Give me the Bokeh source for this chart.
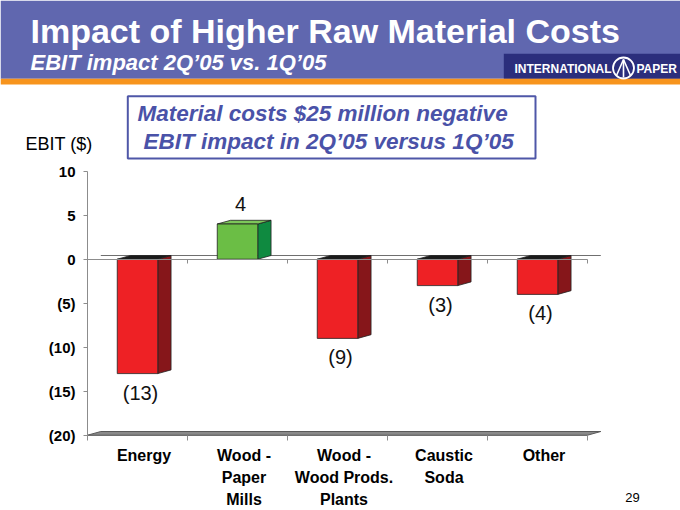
from bokeh.plotting import figure
from bokeh.models import Range1d, LinearAxis, FixedTicker
from bokeh.core.properties import value
from bokeh.embed import file_html
from bokeh.resources import INLINE

# ---- data ----
categories = ["Energy", "Wood -\nPaper\nMills", "Wood -\nWood Prods.\nPlants", "Caustic\nSoda", "Other"]
ebit = [-13, 4, -9, -3, -4]
value_labels = ["(13)", "4", "(9)", "(3)", "(4)"]
y_ticks = [10, 5, 0, -5, -10, -15, -20]
y_tick_labels = ["10", "5", "0", "(5)", "(10)", "(15)", "(20)"]

# ---- geometry (pixel <-> data) ----
W, H = 680, 510
PX_X = 100.0   # px per category
PX_Y = 8.8     # px per EBIT unit
X0_PX = 87.0   # pixel x of category origin
Y0_PX = 258.7  # pixel y of EBIT 0


def X(px):
    return (px - X0_PX) / PX_X


def Y(py):
    return (Y0_PX - py) / PX_Y


FONT = value("Liberation Sans")

p = figure(width=W, height=H, x_range=Range1d(X(0), X(W)), y_range=Range1d(Y(H), Y(0)),
           output_backend="svg", toolbar_location=None, min_border=0,
           x_axis_type=None, y_axis_type=None)
p.outline_line_color = None
p.background_fill_color = "white"
p.border_fill_color = "white"

# ---- header ----
p.quad(left=[X(0)], right=[X(W)], top=[Y(0)], bottom=[Y(78.3)], fill_color="#6067AF", line_color=None)
p.quad(left=[X(503.3)], right=[X(W)], top=[Y(53.3)], bottom=[Y(78.3)], fill_color="#2B2E7C", line_color=None)
p.quad(left=[X(0)], right=[X(W)], top=[Y(78.3)], bottom=[Y(84)], fill_color="#F7941D", line_color=None)

p.text(x=[X(30)], y=[Y(30)], text=["Impact of Higher Raw Material Costs"], text_font=FONT,
       text_font_style="bold", text_font_size="34px", text_color="white",
       text_align="left", text_baseline="middle")
p.text(x=[X(30)], y=[Y(62)], text=["EBIT impact 2Q\u201905 vs. 1Q\u201905"], text_font=FONT,
       text_font_style="bold italic", text_font_size="22px", text_color="white",
       text_align="left", text_baseline="middle")

# logo
p.text(x=[X(514)], y=[Y(68.5)], text=["INTERNATIONAL"], text_font=FONT, text_font_style="bold",
       text_font_size="12px", text_color="white", text_align="left", text_baseline="middle")
p.text(x=[X(636)], y=[Y(68.5)], text=["PAPER"], text_font=FONT, text_font_style="bold",
       text_font_size="12px", text_color="white", text_align="left", text_baseline="middle")
p.scatter(x=[X(623)], y=[Y(67.5)], size=21, marker="circle", fill_color=None,
          line_color="white", line_width=1.8)
p.multi_line(xs=[[X(616), X(623), X(630)], [X(623), X(623)]],
             ys=[[Y(75), Y(59), Y(75)], [Y(59), Y(77)]], line_color="white", line_width=1.6)

# ---- callout box ----
p.quad(left=[X(127.3)], right=[X(535)], top=[Y(95.7)], bottom=[Y(158)], fill_color=None,
       line_color="#4F57A8", line_width=2)
p.text(x=[X(137), X(143)], y=[Y(113), Y(141)],
       text=["Material costs $25 million negative", "EBIT impact in 2Q\u201905 versus 1Q\u201905"],
       text_font=FONT, text_font_style="bold italic", text_font_size="22.5px", text_color="#4A52A8",
       text_align="left", text_baseline="middle")

p.text(x=[X(25)], y=[Y(143)], text=["EBIT ($)"], text_font=FONT, text_font_size="18px",
       text_color="black", text_align="left", text_baseline="middle")
p.text(x=[X(632)], y=[Y(497)], text=["29"], text_font=FONT, text_font_size="13px",
       text_color="black", text_align="center", text_baseline="middle")

# ---- chart ----
n = len(categories)
DX = 13.3 / PX_X
DY = 3.7 / PX_Y
HALF = 20.25 / PX_X
y_min, y_max = y_ticks[-1], y_ticks[0]

# floor
p.patch(x=[0, DX, n + DX, n], y=[y_min, y_min + DY, y_min + DY, y_min],
        fill_color="#8A8A8A", line_color="#5A5A5A", line_width=1)
# back zero line
p.line(x=[DX, n + DX], y=[DY, DY], line_color="#6F6F6F", line_width=1.2)

xc = [i + 0.5 for i in range(n)]
lefts = [c - HALF for c in xc]
rights = [c + HALF for c in xc]
tops = [max(v, 0) for v in ebit]
bottoms = [min(v, 0) for v in ebit]
front = ["#EE2125" if v < 0 else "#6BBE45" for v in ebit]
side = ["#86161A" if v < 0 else "#0F8A40" for v in ebit]
topc = ["#1A1A1A" if v < 0 else "#7DC75A" for v in ebit]

p.patches(xs=[[r, r + DX, r + DX, r] for r in rights],
          ys=[[t, t + DY, b + DY, b] for t, b in zip(tops, bottoms)],
          fill_color=side, line_color="#222222", line_width=0.8)
p.patches(xs=[[l, l + DX, r + DX, r] for l, r in zip(lefts, rights)],
          ys=[[t, t + DY, t + DY, t] for t in tops],
          fill_color=topc, line_color="#222222", line_width=0.8)
p.quad(left=lefts, right=rights, top=tops, bottom=bottoms, fill_color=front,
       line_color="#222222", line_width=0.8)

# value labels
p.text(x=[c + 0.03 for c in xc], y=ebit, text=value_labels,
       y_offset=[19 if v < 0 else -20 for v in ebit],
       text_font=FONT, text_font_size="20px", text_color="#111111",
       text_align="center", text_baseline="middle")

# left axis
yax = LinearAxis(fixed_location=0, bounds=(y_min, y_max), ticker=FixedTicker(ticks=y_ticks),
                 major_label_overrides=dict(zip(y_ticks, y_tick_labels)))
yax.axis_line_color = "#8C8C8C"
yax.major_tick_line_color = "#8C8C8C"
yax.major_tick_out = 4
yax.major_tick_in = 0
yax.minor_tick_out = 0
yax.minor_tick_in = 0
yax.major_label_standoff = 8
yax.major_label_text_font = "Liberation Sans"
yax.major_label_text_font_style = "bold"
yax.major_label_text_font_size = "15px"
yax.major_label_text_color = "black"
p.add_layout(yax, "left")

# zero axis line with ticks
zax = LinearAxis(fixed_location=0, bounds=(0, n), ticker=FixedTicker(ticks=list(range(1, n + 1))))
zax.axis_line_color = "#8C8C8C"
zax.major_tick_line_color = "#8C8C8C"
zax.major_tick_out = 4
zax.major_tick_in = 0
zax.minor_tick_out = 0
zax.major_label_text_color = None
p.add_layout(zax, "below")

# bottom axis ticks
bax = LinearAxis(fixed_location=y_min, bounds=(0, n), ticker=FixedTicker(ticks=list(range(0, n + 1))))
bax.axis_line_color = "#6F6F6F"
bax.major_tick_line_color = "#8C8C8C"
bax.major_tick_out = 5
bax.major_tick_in = 0
bax.minor_tick_out = 0
bax.major_label_text_color = None
p.add_layout(bax, "below")

# category labels
cat_ticks = [c + 0.065 for c in xc]
cax = LinearAxis(fixed_location=y_min, ticker=FixedTicker(ticks=cat_ticks),
                 major_label_overrides=dict(zip(cat_ticks, categories)))
cax.axis_line_color = None
cax.major_tick_line_color = None
cax.major_tick_out = 0
cax.major_tick_in = 0
cax.minor_tick_out = 0
cax.major_label_standoff = 12
cax.major_label_text_font = "Liberation Sans"
cax.major_label_text_font_style = "bold"
cax.major_label_text_font_size = "16px"
cax.major_label_text_color = "black"
cax.major_label_text_line_height = 1.28
p.add_layout(cax, "below")

open("out.html", "w").write(file_html(p, INLINE))
